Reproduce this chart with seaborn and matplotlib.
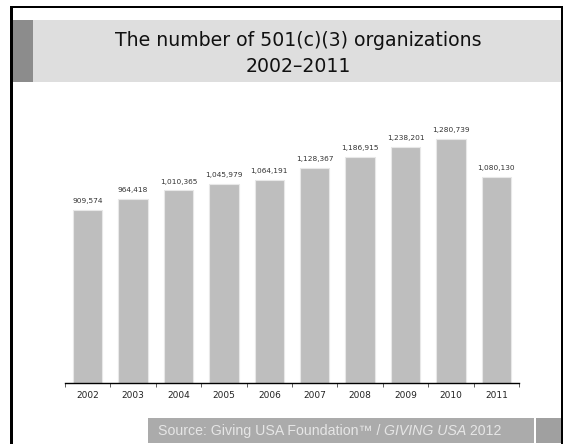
import matplotlib
matplotlib.use("Agg")
import matplotlib.pyplot as plt
from matplotlib.patches import Rectangle
import seaborn as sns
import pandas as pd

years = ["2002", "2003", "2004", "2005", "2006", "2007", "2008", "2009", "2010", "2011"]
counts = [909574, 964418, 1010365, 1045979, 1064191, 1128367, 1186915, 1238201, 1280739, 1080130]
title_lines = ["The number of 501(c)(3) organizations", "2002\u20132011"]

W, H = 563, 444
fig = plt.figure(figsize=(W / 100, H / 100), dpi=100)
fig.patch.set_facecolor("white")

def px_rect(x0, y0, x1, y1, color, z=0, **kw):
    fig.patches.append(Rectangle((x0 / W, 1 - y1 / H), (x1 - x0) / W, (y1 - y0) / H,
                                 transform=fig.transFigure, facecolor=color,
                                 edgecolor="none", zorder=z, **kw))

# title band
px_rect(12, 20, 563, 82, "#dedede")
px_rect(12, 20, 33, 82, "#8c8c8c", z=1)
# footer band
px_rect(148, 418, 534, 443, "#ababab")
px_rect(536, 418, 563, 443, "#a0a0a0")
# frame
px_rect(10, 6, 13, 444, "black", z=3)
px_rect(10, 6, 563, 8, "black", z=3)
px_rect(561, 6, 563, 444, "black", z=3)

fig.text(298 / W, 1 - 40 / H, title_lines[0], ha="center", va="center",
         fontsize=13.6, color="#111111", family="DejaVu Sans")
fig.text(298 / W, 1 - 66 / H, title_lines[1], ha="center", va="center",
         fontsize=13.6, color="#111111", family="DejaVu Sans")

fs = 10.2
fy = 1 - 431 / H
fig.text(158 / W, fy, "Source: Giving USA Foundation\u2122 / ", ha="left", va="center",
         fontsize=fs, color="#e6e6e6", family="Liberation Sans")
t1 = fig.texts[-1]
fig.canvas.draw()
bb = t1.get_window_extent()
fig.text(bb.x1 / W, fy, "GIVING USA", ha="left", va="center",
         fontsize=fs, color="#e6e6e6", family="Liberation Sans", style="italic")
t2 = fig.texts[-1]
fig.canvas.draw()
bb2 = t2.get_window_extent()
fig.text(bb2.x1 / W, fy, " 2012", ha="left", va="center",
         fontsize=fs, color="#e6e6e6", family="Liberation Sans")

ax = fig.add_axes([65 / W, (H - 383) / H, 454 / W, 267 / H])
df = pd.DataFrame({"year": years, "count": counts})
sns.barplot(data=df, x="year", y="count", color="#bebebe", saturation=1,
            width=0.65, edgecolor="#e8e8e8", linewidth=0.8, ax=ax)
ax.set_xlim(-0.5, len(years) - 0.5)
ax.set_ylim(0, 1400000)
for s in ["top", "right", "left"]:
    ax.spines[s].set_visible(False)
ax.spines["bottom"].set_color("black")
ax.spines["bottom"].set_linewidth(1.0)
ax.set_yticks([])
ax.set_xlabel("")
ax.set_ylabel("")
ax.tick_params(axis="x", which="major", length=0, labelsize=6.5, pad=6, labelcolor="#222222")
ax.set_xticks([i - 0.5 for i in range(len(years) + 1)], minor=True)
ax.tick_params(axis="x", which="minor", length=3, width=0.6, color="#444444")
for i, v in enumerate(counts):
    ax.text(i, v + 30000, f"{v:,}", ha="center", va="bottom", fontsize=5.3, color="#333333")

fig.savefig("out.png", dpi=100)
